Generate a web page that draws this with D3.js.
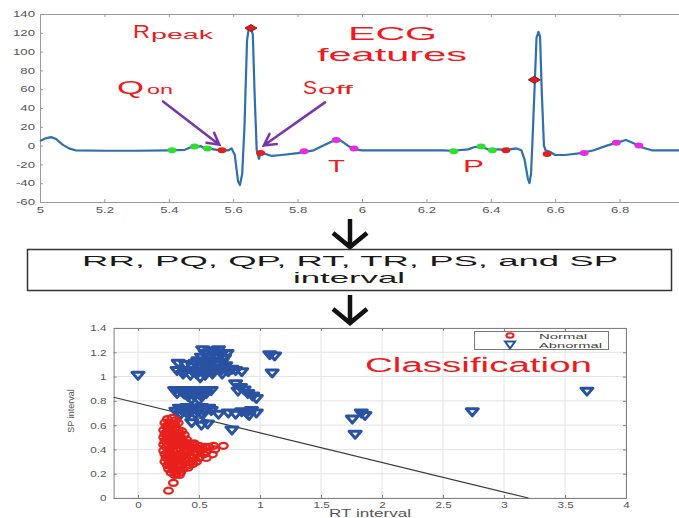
<!DOCTYPE html>
<html>
<head>
<meta charset="utf-8">
<script src="https://cdn.jsdelivr.net/npm/d3@7"></script>
<style>
body { margin: 0; background: #fff; }
svg { display: block; font-family: "Liberation Sans", Arial, sans-serif; }
</style>
</head>
<body>
<svg id="fig" width="679" height="518"></svg>
<script>
// ECG trace, time (s) and amplitude
var ecgT = [5.00, 5.02, 5.035, 5.05, 5.07, 5.09, 5.11, 5.2, 5.3, 5.4, 5.45, 5.47, 5.49, 5.50, 5.51, 5.53, 5.56,
  5.585, 5.595, 5.605, 5.615, 5.621, 5.628, 5.635, 5.643, 5.648, 5.655, 5.661, 5.666, 5.673, 5.68, 5.685, 5.69,
  5.70, 5.72, 5.75, 5.80, 5.85, 5.88, 5.91, 5.925, 5.94, 5.96, 5.98, 6.00, 6.2, 6.25, 6.28, 6.33, 6.35, 6.37,
  6.39, 6.42, 6.45, 6.48, 6.495, 6.505, 6.515, 6.52, 6.525, 6.53, 6.537, 6.542, 6.548, 6.553, 6.558, 6.565,
  6.57, 6.58, 6.6, 6.63, 6.68, 6.72, 6.76, 6.80, 6.82, 6.84, 6.87, 6.90, 7.0];
var ecgV = [5, 8, 9, 7, 1, -3, -5, -5.5, -5.5, -5, -4.5, -1.5, -1, -0.5, -3, -3.5, -5,
  -5, -3, -10, -38, -42, -30, 20, 112, 124, 125, 118, 60, -5, -14, -8, -7,
  -9, -11, -10, -8, -5, 0, 5, 7, 4, -1, -4, -5, -5, -5, -5.5, -4, -1.5, -1,
  -4, -4, -4.5, -3, -5, -15, -35, -40, -30, 10, 70, 115, 121, 116, 60, 0,
  -5, -6, -10, -10, -8, -5, 0, 4, 6, 3, -2, -5, -5];

// detected feature points
var pWaveT = [5.41, 5.48, 5.52, 6.285, 6.37, 6.405];
var pWaveV = [-5, -1, -3, -6, -1, -5];
var qsT = [5.565, 5.685, 6.447, 6.575];
var qsV = [-5, -8, -5, -9];
var tWaveT = [5.82, 5.92, 5.975, 6.69, 6.79, 6.86];
var tWaveV = [-6, 6, -3, -8, 3, 0];
var rPeakT = [5.655, 6.535];
var rPeakV = [125, 70];

var ecgXTicks = [5, 5.2, 5.4, 5.6, 5.8, 6, 6.2, 6.4, 6.6, 6.8];
var ecgXLabels = ['5', '5.2', '5.4', '5.6', '5.8', '6', '6.2', '6.4', '6.6', '6.8'];
var ecgYTicks = [-60, -40, -20, 0, 20, 40, 60, 80, 100, 120, 140];
var ecgYLabels = ['-60', '-40', '-20', '0', '20', '40', '60', '80', '100', '120', '140'];

// classification scatter: RT interval vs SP interval
var normalRT = [0.24, 0.28, 0.31,
  0.22, 0.26, 0.30, 0.33,
  0.23, 0.27, 0.31,
  0.21, 0.25, 0.29, 0.33, 0.36,
  0.22, 0.26, 0.30, 0.34, 0.38,
  0.21, 0.24, 0.28, 0.32, 0.36, 0.40,
  0.22, 0.26, 0.30, 0.34, 0.38, 0.42, 0.46,
  0.21, 0.25, 0.29, 0.33, 0.37, 0.41, 0.45, 0.50, 0.55,
  0.23, 0.27, 0.31, 0.35, 0.39, 0.43, 0.48, 0.53, 0.58, 0.62, 0.70,
  0.21, 0.25, 0.29, 0.33, 0.37, 0.41, 0.46, 0.51, 0.56, 0.63,
  0.22, 0.26, 0.30, 0.34, 0.38, 0.43, 0.48, 0.54, 0.61,
  0.23, 0.27, 0.31, 0.35, 0.40, 0.45, 0.50, 0.56,
  0.22, 0.26, 0.30, 0.34, 0.38, 0.43, 0.48,
  0.24, 0.28, 0.32, 0.36, 0.41, 0.45,
  0.25, 0.29, 0.33, 0.37, 0.41,
  0.27, 0.31, 0.35,
  0.30, 0.34,
  0.29, 0.25];
var normalSP = [0.65, 0.66, 0.64,
  0.62, 0.62, 0.61, 0.62,
  0.59, 0.59, 0.58,
  0.56, 0.56, 0.55, 0.56, 0.55,
  0.53, 0.53, 0.52, 0.53, 0.52,
  0.50, 0.50, 0.49, 0.50, 0.49, 0.48,
  0.47, 0.47, 0.46, 0.47, 0.46, 0.45, 0.45,
  0.44, 0.44, 0.43, 0.44, 0.43, 0.43, 0.44, 0.43, 0.42,
  0.42, 0.41, 0.40, 0.41, 0.40, 0.41, 0.41, 0.41, 0.42, 0.43, 0.43,
  0.39, 0.38, 0.38, 0.39, 0.38, 0.38, 0.38, 0.39, 0.38, 0.40,
  0.36, 0.35, 0.35, 0.36, 0.35, 0.35, 0.36, 0.36, 0.36,
  0.33, 0.32, 0.32, 0.33, 0.32, 0.33, 0.33, 0.33,
  0.30, 0.29, 0.29, 0.30, 0.29, 0.29, 0.30,
  0.27, 0.26, 0.26, 0.27, 0.27, 0.28,
  0.24, 0.23, 0.23, 0.24, 0.25,
  0.21, 0.20, 0.21,
  0.19, 0.19,
  0.125, 0.06];

var abnormalRT = [0.00, 1.08, 1.12, 1.10,
  0.53, 0.59, 0.66,
  0.55, 0.62, 0.68, 0.73,
  0.52, 0.58, 0.65, 0.71,
  0.49, 0.56, 0.62, 0.69,
  0.33, 0.39, 0.47, 0.54, 0.60, 0.66, 0.72,
  0.45, 0.51, 0.57, 0.63, 0.70, 0.77,
  0.32, 0.38, 0.44, 0.50, 0.56, 0.62, 0.68, 0.74, 0.80, 0.85,
  0.37, 0.43, 0.48, 0.55, 0.61, 0.69,
  0.51,
  0.80, 0.84, 0.87, 0.82, 0.90, 0.94, 0.97,
  0.30, 0.35, 0.40, 0.45, 0.50, 0.55, 0.60,
  0.32, 0.38, 0.44, 0.50, 0.56,
  0.41, 0.46, 0.52,
  0.44, 0.50,
  0.34, 0.40, 0.46, 0.52, 0.58,
  0.31, 0.36, 0.42, 0.48, 0.54, 0.60,
  0.35, 0.41, 0.47, 0.53,
  0.66, 0.74, 0.80, 0.85, 0.89, 0.93, 0.97, 0.91,
  0.44, 0.52, 0.57, 0.77,
  1.757, 1.83, 1.86, 1.78, 2.74, 3.68];
var abnormalSP = [1.01, 1.18, 1.17, 1.03,
  1.22, 1.21, 1.22,
  1.19, 1.20, 1.18, 1.19,
  1.16, 1.15, 1.16, 1.15,
  1.13, 1.12, 1.13, 1.12,
  1.11, 1.10, 1.11, 1.10, 1.11, 1.10, 1.09,
  1.08, 1.07, 1.08, 1.07, 1.07, 1.06,
  1.05, 1.04, 1.05, 1.04, 1.05, 1.04, 1.05, 1.04, 1.05, 1.04,
  1.02, 1.01, 1.02, 1.01, 1.02, 1.02,
  0.99,
  0.94, 0.91, 0.89, 0.88, 0.86, 0.84, 0.82,
  0.885, 0.88, 0.885, 0.88, 0.885, 0.88, 0.885,
  0.86, 0.855, 0.86, 0.855, 0.86,
  0.835, 0.84, 0.835,
  0.81, 0.805,
  0.74, 0.745, 0.74, 0.745, 0.74,
  0.715, 0.72, 0.715, 0.72, 0.715, 0.72,
  0.69, 0.685, 0.69, 0.685,
  0.69, 0.70, 0.69, 0.71, 0.70, 0.72, 0.70, 0.68,
  0.62, 0.60, 0.61, 0.56,
  0.65, 0.70, 0.68, 0.525, 0.71, 0.88];

// decision boundary end points
var boundaryRT = [-0.2, 3.2];
var boundarySP = [0.83, 0];

var scXTicks = [0, 0.5, 1, 1.5, 2, 2.5, 3, 3.5, 4];
var scXLabels = ['0', '0.5', '1', '1.5', '2', '2.5', '3', '3.5', '4'];
var scYTicks = [0, 0.2, 0.4, 0.6, 0.8, 1, 1.2, 1.4];
var scYLabels = ['0', '0.2', '0.4', '0.6', '0.8', '1', '1.2', '1.4'];

var svg = d3.select('#fig');

function stretch(sel, k) {
  sel.each(function() {
    var w = this.getComputedTextLength();
    d3.select(this).attr('textLength', w * k).attr('lengthAdjust', 'spacingAndGlyphs');
  });
}

function label(x, y, txt, size, width, color, anchor) {
  return svg.append('text')
    .attr('x', x).attr('y', y)
    .attr('font-size', size)
    .attr('fill', color)
    .attr('text-anchor', anchor || 'start')
    .attr('textLength', width)
    .attr('lengthAdjust', 'spacingAndGlyphs')
    .text(txt);
}

// ---------- ECG panel ----------
var ex = d3.scaleLinear().domain([5, 7]).range([40, 684]);
var ey = d3.scaleLinear().domain([-60, 140]).range([202, 14]);

var gx = svg.append('g').attr('transform', 'translate(0,202)')
  .call(d3.axisBottom(ex).tickValues(ecgXTicks).tickSize(-3).tickSizeOuter(0).tickPadding(5)
    .tickFormat(function(d, i) { return ecgXLabels[i]; }));
var gt = svg.append('g').attr('transform', 'translate(0,14)')
  .call(d3.axisTop(ex).tickValues(ecgXTicks).tickSize(-3).tickSizeOuter(0).tickFormat(''));
var gy = svg.append('g').attr('transform', 'translate(40,0)')
  .call(d3.axisLeft(ey).tickValues(ecgYTicks).tickSize(-3).tickSizeOuter(0).tickPadding(5)
    .tickFormat(function(d, i) { return ecgYLabels[i]; }));
[gx, gt, gy].forEach(function(g) {
  g.selectAll('path, line').attr('stroke', '#9a9a9a');
  g.selectAll('text').attr('fill', '#555').attr('font-size', 8.5).attr('font-family', null);
  stretch(g.selectAll('text'), 1.55);
});

var ecgLine = d3.line()
  .x(function(d, i) { return ex(ecgT[i]); })
  .y(function(d, i) { return ey(ecgV[i]); });
svg.append('path')
  .attr('d', ecgLine(ecgT))
  .attr('fill', 'none')
  .attr('stroke', '#2f6fae')
  .attr('stroke-width', 2.2)
  .attr('stroke-linejoin', 'round');

function dots(ts, vs, color) {
  svg.append('g').selectAll('ellipse')
    .data(ts)
    .enter()
    .append('ellipse')
    .attr('cx', function(d) { return ex(d); })
    .attr('cy', function(d, i) { return ey(vs[i]); })
    .attr('rx', 4.5).attr('ry', 3)
    .attr('fill', color);
}
dots(pWaveT, pWaveV, '#2ee02e');
dots(qsT, qsV, '#e3201c');
dots(tWaveT, tWaveV, '#e22ee0');

svg.append('g').selectAll('path')
  .data(rPeakT)
  .enter()
  .append('path')
  .attr('d', function(d, i) {
    var x = ex(d), y = ey(rPeakV[i]);
    return 'M' + (x - 6) + ',' + y + 'L' + x + ',' + (y - 3.5) + 'L' + (x + 6) + ',' + y + 'L' + x + ',' + (y + 3.5) + 'Z';
  })
  .attr('fill', '#d81e1e')
  .attr('stroke', '#a01010')
  .attr('stroke-width', 1);

// purple pointer arrows (tail -> tip, in data units)
var arrowFromT = [5.382, 5.885], arrowFromV = [47, 46];
var arrowToT = [5.557, 5.695], arrowToV = [1, 0];
arrowFromT.forEach(function(t, i) {
  var x1 = ex(t), y1 = ey(arrowFromV[i]), x2 = ex(arrowToT[i]), y2 = ey(arrowToV[i]);
  var a = Math.atan2(y2 - y1, x2 - x1), L = 13, s = 0.5;
  var h1 = [x2 - L * Math.cos(a - s), y2 - L * Math.sin(a - s)];
  var h2 = [x2 - L * Math.cos(a + s), y2 - L * Math.sin(a + s)];
  svg.append('path')
    .attr('d', 'M' + x1 + ',' + y1 + 'L' + x2 + ',' + y2 + 'M' + h1 + 'L' + x2 + ',' + y2 + 'L' + h2)
    .attr('fill', 'none')
    .attr('stroke', '#7a35a8')
    .attr('stroke-width', 2.5)
    .attr('stroke-linecap', 'round');
});

var RED = '#f0191c';
label(133, 38, 'R', 18, 17, RED);
label(151, 39, 'peak', 12, 62, RED);
label(117, 94, 'Q', 18, 27, RED);
label(147, 94, 'on', 12, 26, RED);
label(303, 94, 'S', 18, 14, RED);
label(318, 94, 'off', 12, 35, RED);
label(348, 40, 'ECG', 19, 89, RED);
label(317, 61, 'features', 19, 150, RED);
label(328, 172, 'T', 17, 17, RED);
label(463, 172, 'P', 17, 21, RED);

// ---------- flow box ----------
function downArrow(y0) {
  svg.append('path')
    .attr('d', 'M350,' + y0 + 'V' + (y0 + 26) + 'M333,' + (y0 + 14) + 'L350,' + (y0 + 28) + 'L367,' + (y0 + 14))
    .attr('fill', 'none')
    .attr('stroke', '#111')
    .attr('stroke-width', 4.5)
    .attr('stroke-linejoin', 'miter');
}
downArrow(219);
downArrow(295);

svg.append('rect')
  .attr('x', 27.5).attr('y', 249.5).attr('width', 644).attr('height', 41)
  .attr('fill', '#fff').attr('stroke', '#333').attr('stroke-width', 1.5);
label(82, 266, 'RR, PQ, QP, RT, TR, PS, and SP', 15.5, 536, '#1a1a1a');
label(293, 283, 'interval', 15, 112, '#1a1a1a');

// ---------- classification scatter ----------
var sx = d3.scaleLinear().domain([-0.2, 4]).range([113.6, 626]);
var sy = d3.scaleLinear().domain([0, 1.4]).range([498, 328]);

svg.append('g').selectAll('line.gx')
  .data(scXTicks).enter().append('line')
  .attr('x1', function(d) { return sx(d); }).attr('x2', function(d) { return sx(d); })
  .attr('y1', sy(0)).attr('y2', sy(1.4))
  .attr('stroke', '#e3e3e3');
svg.append('g').selectAll('line.gy')
  .data(scYTicks).enter().append('line')
  .attr('y1', function(d) { return sy(d); }).attr('y2', function(d) { return sy(d); })
  .attr('x1', sx(-0.2)).attr('x2', sx(4))
  .attr('stroke', '#e3e3e3');

var sgx = svg.append('g').attr('transform', 'translate(0,498)')
  .call(d3.axisBottom(sx).tickValues(scXTicks).tickSize(-3).tickSizeOuter(0).tickPadding(4)
    .tickFormat(function(d, i) { return scXLabels[i]; }));
var sgy = svg.append('g').attr('transform', 'translate(113.6,0)')
  .call(d3.axisLeft(sy).tickValues(scYTicks).tickSize(-3).tickSizeOuter(0).tickPadding(7)
    .tickFormat(function(d, i) { return scYLabels[i]; }));
var sgt = svg.append('g').attr('transform', 'translate(0,328)')
  .call(d3.axisTop(sx).tickValues(scXTicks).tickSize(-3).tickSizeOuter(0).tickFormat(''));
var sgr = svg.append('g').attr('transform', 'translate(626,0)')
  .call(d3.axisRight(sy).tickValues(scYTicks).tickSize(-3).tickSizeOuter(0).tickFormat(''));
[sgx, sgy, sgt, sgr].forEach(function(g) {
  g.selectAll('path, line').attr('stroke', '#808080');
  g.selectAll('text').attr('fill', '#555').attr('font-size', 9).attr('font-family', null);
  stretch(g.selectAll('text'), 1.3);
});

svg.append('line')
  .attr('x1', sx(boundaryRT[0])).attr('y1', sy(boundarySP[0]))
  .attr('x2', sx(boundaryRT[1])).attr('y2', sy(boundarySP[1]))
  .attr('stroke', '#3a3a3a').attr('stroke-width', 1.2);

var BLUE = '#2a52a3';
function triDown(x, y, w) {
  return 'M' + (x - w) + ',' + (y - 3) + 'L' + (x + w) + ',' + (y - 3) + 'L' + x + ',' + (y + 4) + 'Z';
}
svg.append('g').selectAll('path')
  .data(abnormalRT).enter().append('path')
  .attr('d', function(d, i) { return triDown(sx(d), sy(abnormalSP[i]), 6); })
  .attr('fill', 'none').attr('stroke', BLUE).attr('stroke-width', 3)
  .attr('stroke-linejoin', 'round');

svg.append('g').selectAll('ellipse')
  .data(normalRT).enter().append('ellipse')
  .attr('cx', function(d) { return sx(d); })
  .attr('cy', function(d, i) { return sy(normalSP[i]); })
  .attr('rx', 4.3).attr('ry', 3)
  .attr('fill', 'none').attr('stroke', '#e8211d').attr('stroke-width', 2.3);

// legend
svg.append('rect')
  .attr('x', 474.5).attr('y', 331.5).attr('width', 134).attr('height', 18)
  .attr('fill', '#fff').attr('stroke', '#777');
svg.append('ellipse').attr('cx', 510).attr('cy', 335.5).attr('rx', 3.5).attr('ry', 2.2)
  .attr('fill', 'none').attr('stroke', '#e8211d').attr('stroke-width', 2);
svg.append('path').attr('d', triDown(510, 344.5, 5))
  .attr('fill', 'none').attr('stroke', BLUE).attr('stroke-width', 2);
label(539, 338.5, 'Normal', 8, 48, '#444');
label(539, 347.5, 'Abnormal', 8, 63, '#444');

label(365, 372, 'Classification', 20, 227, RED);

svg.append('text')
  .attr('x', 370).attr('y', 517)
  .attr('text-anchor', 'middle')
  .attr('font-size', 10).attr('fill', '#555')
  .attr('textLength', 82).attr('lengthAdjust', 'spacingAndGlyphs')
  .text('RT interval');
svg.append('text')
  .attr('transform', 'translate(74,411) rotate(-90)')
  .attr('text-anchor', 'middle')
  .attr('font-size', 9).attr('fill', '#555')
  .text('SP interval');
</script>
</body>
</html>
